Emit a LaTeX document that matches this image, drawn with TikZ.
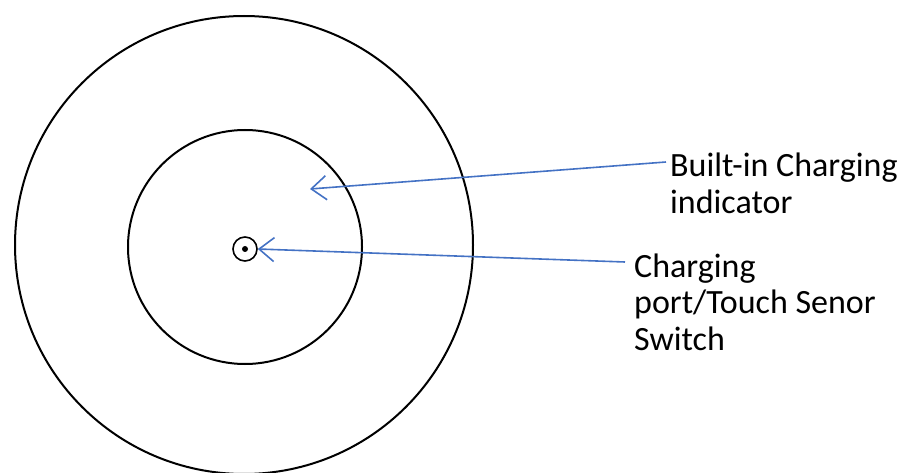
\documentclass[tikz,border=0pt]{standalone}
\usepackage{fontspec}
\setmainfont{Carlito}
\usetikzlibrary{arrows.meta}
\definecolor{arrowblue}{RGB}{68,114,196}
\tikzset{
  ring/.style={draw=black, line width=2pt, circle, inner sep=0pt},
  pointer/.style={draw=arrowblue, line width=1.6pt, -{Straight Barb[length=15pt,width=24pt,line width=1.6pt]}},
  lbl/.style={font=\fontsize{34}{36.5}\selectfont, align=left, inner sep=0pt, anchor=base west}
}
\begin{document}
\begin{tikzpicture}[x=1pt,y=-1pt]
\useasboundingbox (0,0) rectangle (905,473);
\node[ring, minimum size=458pt] (outer) at (244,245) {};
\node[ring, minimum size=234pt] (inner) at (245,247) {};
\node[ring, line width=1.6pt, minimum size=24pt] (port) at (245,249) {};
\node[fill=black, circle, inner sep=0pt, minimum size=6pt] (dot) at (245,249) {};
% base anchor = baseline of the last line
\node[lbl] (label1) at (670,213.5) {Built-in Charging\\indicator};
\node[lbl] (label2) at (634,350) {Charging\\port/Touch Senor\\Switch};
\coordinate (tip1) at (310,189);
\draw[pointer] ([xshift=-4pt,yshift=51.5pt]label1.base west) -- (tip1);
\draw[pointer] ([xshift=-9pt,yshift=88pt]label2.base west) -- (port.east);
\end{tikzpicture}
\end{document}
